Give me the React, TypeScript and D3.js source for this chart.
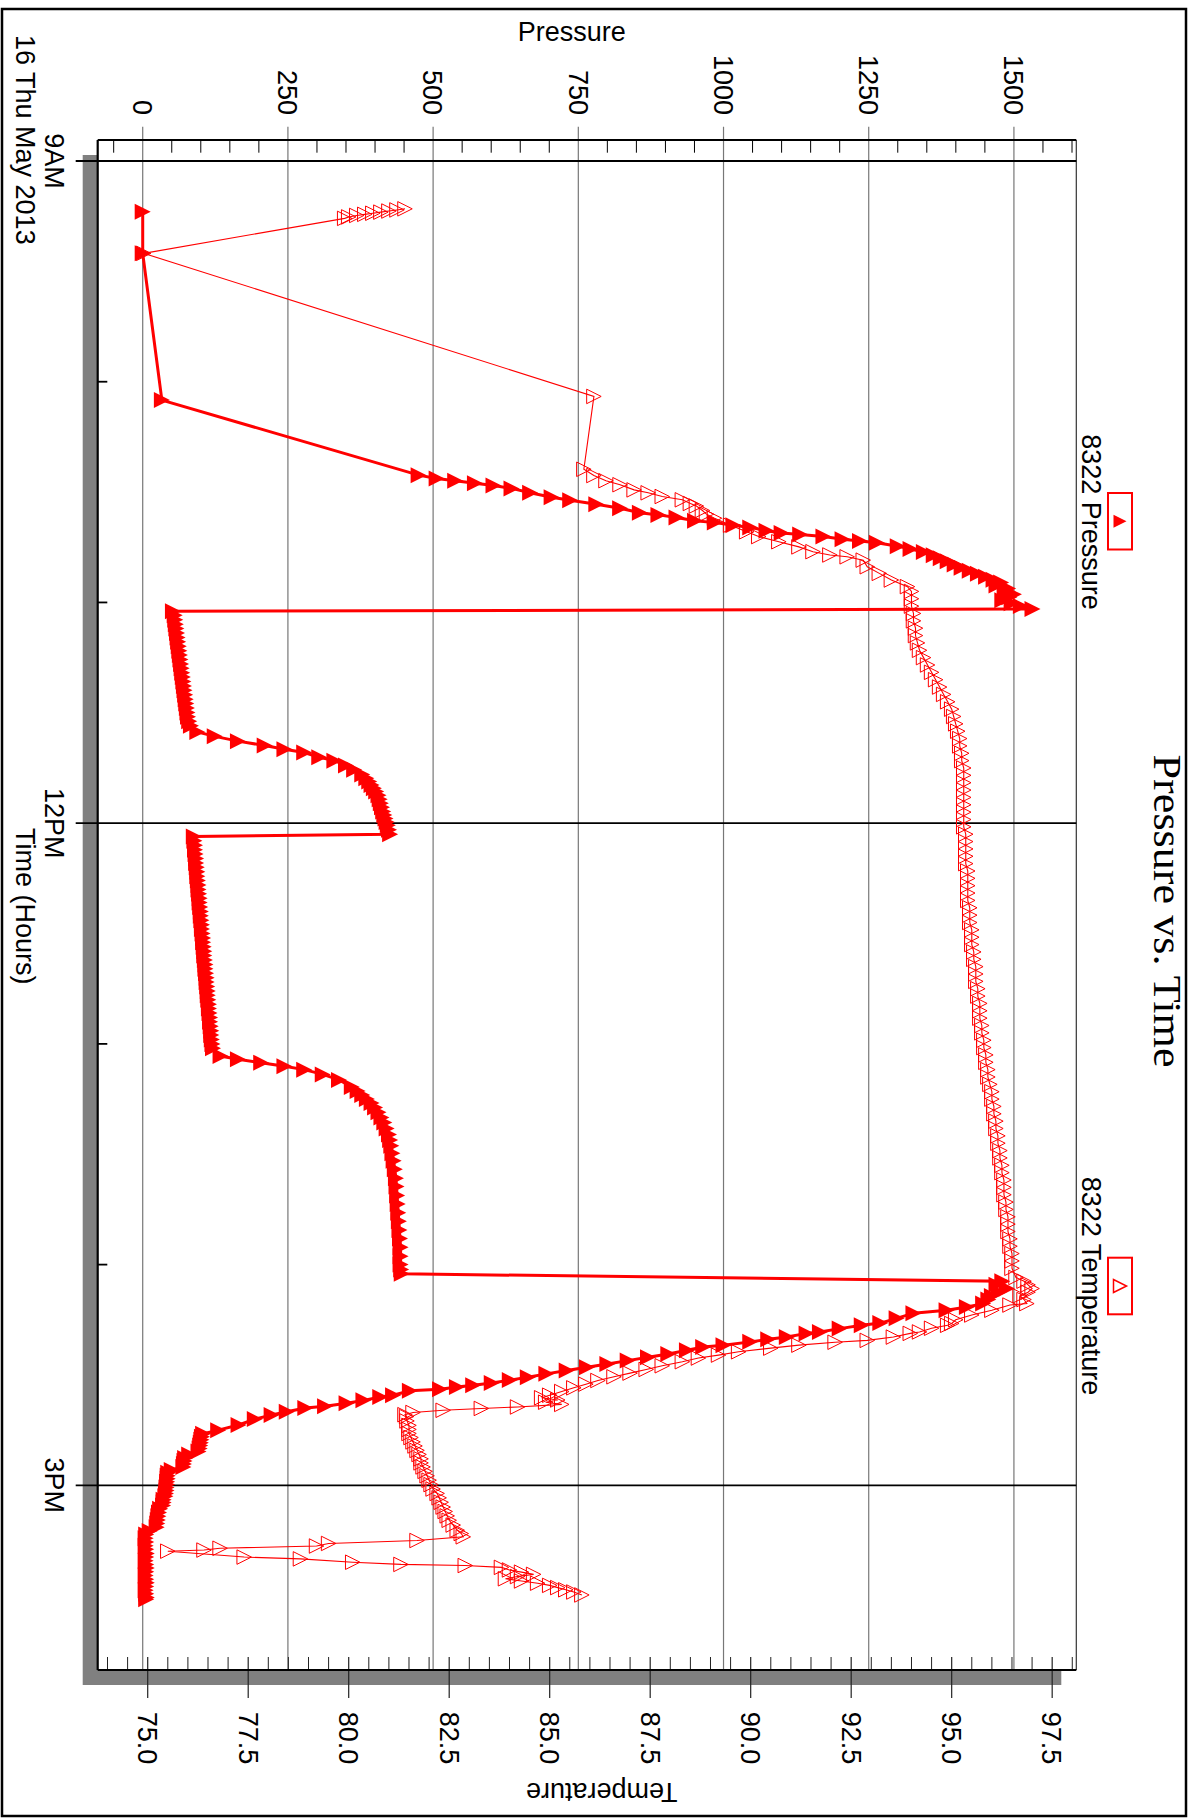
import React from 'react';
import * as d3 from 'd3';

// minutes after 9:00 on 16 May 2013
const pressureMinutes = [
  13.8, 25.1, 65.0, 85.4, 86.3, 86.9, 87.6, 88.2, 89.0, 90.2, 91.4, 92.2, 93.3, 94.4, 95.6, 96.2, 96.9, 97.8, 98.3, 99.0,
  99.6, 100.5, 101.1, 101.5, 102.1, 102.8, 103.3, 103.8, 104.7, 105.5, 106.3, 107.2, 108.0, 108.8, 109.7, 110.6, 111.4,
  112.2, 113.0, 113.8, 114.6, 115.4, 116.2, 117.0, 117.8, 118.6, 119.4, 120.2, 121.0, 121.8,
  122.4, 123.5, 124.7, 125.9, 127.1, 128.3, 129.5, 130.7, 131.9, 133.1, 134.3, 135.5, 136.7, 137.9, 139.1, 140.3, 141.5,
  142.7, 143.9, 145.1, 146.3, 147.5, 148.7, 149.9, 151.1, 152.3, 153.5,
  155.2, 156.4, 157.7, 158.9, 159.9, 160.8, 162.1, 163.0, 164.3, 165.5, 166.8, 167.8, 168.7, 169.6, 170.5, 171.4, 172.4,
  173.5, 174.6, 175.7, 176.8, 177.8, 178.7, 179.7, 180.6, 181.8, 183.0,
  183.6, 184.8, 186.0, 187.2, 188.4, 189.6, 190.8, 192.0, 193.2, 194.4, 195.6, 196.8, 198.0, 199.2, 200.4, 201.6, 202.8,
  204.0, 205.2, 206.4, 207.6, 208.8, 210.0, 211.2, 212.4, 213.6, 214.8, 216.0, 217.2, 218.4, 219.6, 220.8, 222.0, 223.2,
  224.4, 225.6, 226.8, 228.0, 229.2, 230.4, 231.6, 232.8, 234.0, 235.2, 236.4, 237.6, 238.8, 240.0, 241.2,
  243.3, 244.2, 245.1, 246.1, 247.0, 248.3, 249.8, 251.7, 252.8, 253.9, 255.0, 256.1, 257.3, 258.6, 260.0, 261.4, 263.0,
  264.6, 266.1, 267.7, 269.7, 271.8, 274.1, 276.5, 278.8, 281.2, 283.5, 285.9, 288.2, 290.6, 292.9, 295.3, 297.7, 300.0,
  301.3, 302.5,
  304.5, 305.5, 306.5, 307.5, 308.5, 309.5, 310.6, 311.5, 312.4, 313.2, 314.6, 315.9, 316.5, 317.4, 318.3, 318.7, 319.7,
  320.3, 321.0, 321.9, 322.4, 323.3, 324.3, 325.2, 326.1, 327.0, 327.9, 328.8, 329.7, 330.6, 331.4, 332.2, 332.8, 333.3,
  333.9, 334.3, 335.5, 336.0, 336.9, 337.7, 338.5, 339.0, 340.0, 340.9, 342.0, 343.6, 345.0,
  346.0, 346.8, 347.6, 348.4, 349.2, 350.0, 350.8, 351.6, 352.6, 353.4, 354.2, 355.0, 355.8, 356.6, 357.4, 358.2, 359.0,
  359.8, 360.6, 361.4, 362.2, 363.0, 363.9, 364.7, 365.5, 366.4, 367.4, 368.4, 369.4, 370.4, 371.4, 372.4, 373.4, 374.4,
  375.4, 376.4, 377.4, 378.5, 379.5, 380.5, 381.5, 382.5, 383.5, 384.5, 385.5, 386.5, 387.5, 388.5, 389.5, 390.5, 391.0,
];
const pressureValues = [
  0, 0, 33, 475, 506, 538, 572, 604, 635, 667, 704, 736, 781, 822, 856, 888, 919, 951, 985, 1017,
  1046, 1074, 1100, 1132, 1172, 1205, 1235, 1264, 1300, 1322, 1345, 1362, 1374, 1386, 1398, 1410, 1424,
  1438, 1452, 1465, 1478, 1470, 1490, 1484, 1500, 1492, 1480, 1496, 1512, 1532,
  52, 55, 56, 57, 58, 59, 60, 61, 62, 63, 64, 65, 66, 67, 68, 69, 70,
  71, 72, 73, 74, 75, 76, 77, 78, 80, 83,
  94, 124, 164, 210, 244, 278, 304, 330, 350, 364, 378, 385, 390, 394, 398, 402, 406,
  408, 410, 412, 414, 416, 418, 420, 422, 424, 426,
  88, 89, 90, 90, 91, 92, 92, 93, 94, 94, 95, 96, 96, 97, 98, 98, 99,
  100, 100, 101, 102, 102, 103, 104, 104, 105, 106, 106, 107, 108, 108, 109, 110, 110,
  111, 112, 112, 113, 114, 114, 115, 116, 116, 117, 118, 118, 119, 120, 121,
  134, 164, 204, 244, 278, 310, 338, 360, 370, 378, 386, 394, 400, 406, 411, 416, 420,
  424, 426, 428, 430, 432, 434, 436, 437, 438, 439, 440, 441, 442, 443, 444, 444, 444,
  445, 446,
  1480, 1470, 1488, 1474, 1462, 1456, 1447, 1419, 1384, 1327, 1298, 1270, 1238, 1200, 1166, 1143, 1109,
  1077, 1046, 1000, 965, 937, 905, 870, 835, 800, 765, 730, 695, 663, 632, 601, 569, 541,
  512, 460, 431, 409, 380, 351, 314, 280, 248, 222, 193, 165, 130,
  104, 102, 101, 100, 99, 98, 96, 80, 73, 72, 71, 70, 50, 44, 43, 43, 42,
  42, 41, 41, 40, 39, 36, 36, 35, 30, 28, 27, 26, 25, 24, 12, 6, 5,
  6, 5, 6, 7, 6, 5, 6, 7, 6, 5, 6, 7, 6, 5, 6, 7, 6,
];

const temperatureMinutes = [
  13.0, 13.3, 13.6, 13.9, 14.2, 14.5, 14.8, 15.2, 15.6, 25.1, 64.0,
  83.8, 85.5, 86.9, 88.0, 89.4, 90.2, 91.2, 92.1, 93.1, 93.8, 95.0, 96.0, 97.1, 99.0, 100.8, 102.1, 103.5, 104.9,
  106.2, 107.1, 107.6, 108.5, 110.3, 112.1, 113.9, 115.7, 117.0, 119.0, 121.0, 123.0, 125.0, 127.0, 129.0, 131.0,
  133.0, 135.0, 137.0, 139.0, 141.0, 143.0, 145.0, 147.0, 149.0, 151.0, 153.0, 155.0, 157.0, 159.0, 161.0, 163.0,
  165, 167, 169, 171, 173, 175, 177, 179, 181, 183, 185, 187, 189, 191, 193, 195, 197, 199, 201, 203, 205, 207,
  209, 211, 213, 215, 217, 219, 221, 223, 225, 227, 229, 231, 233, 235, 237, 239, 241, 243, 245, 247, 249, 251,
  253, 255, 257, 259, 261, 263, 265, 267, 269, 271, 273, 275, 277, 279, 281, 283, 285, 287, 289, 291, 293, 295,
  297, 299, 301,
  303.5, 304.5, 305.5, 306.5, 307.5, 308.5, 309.5, 310.6, 311.0, 312.4, 313.7, 315.0, 316.0, 316.5, 317.3, 318.3,
  318.7, 319.7, 320.6, 321.1, 321.9, 322.7, 323.7, 324.6, 325.4, 326.4, 327.5, 328.5, 329.5, 330.5, 331.5, 332.5,
  333.5, 334.5, 335.5, 336.2, 336.8, 337.4, 338.0, 338.7, 339.1, 339.6, 340.2, 340.8, 341.3, 342.5, 343.7, 344.8,
  345.9, 347.0, 348.2, 349.3, 350.5, 351.6, 352.8, 353.9, 355.0, 356.2, 357.4, 358.6, 359.8, 361.0, 362.2, 363.4,
  364.6, 365.9, 367.1, 368.3, 369.5, 370.8, 372.2, 373.1, 374.0,
  375.0, 375.8, 376.5, 377.1, 377.6, 377.9, 379.5, 380.0, 380.9, 381.5, 381.8, 382.3, 383.0, 383.6, 384.2, 384.8,
  385.4, 386.0, 386.6, 387.2, 387.8, 388.4, 389.0, 389.8,
];
const temperatureValues = [
  81.4, 81.2, 81.0, 80.8, 80.6, 80.4, 80.2, 80.0, 79.9, 74.9, 86.1,
  85.85, 86.1, 86.4, 86.75, 87.1, 87.45, 87.8, 88.3, 88.5, 88.65, 88.8, 88.9, 89.1, 89.5, 89.9, 90.2, 90.7, 91.2,
  91.55, 91.97, 92.4, 92.8, 92.9, 93.2, 93.5, 93.9, 94.0, 94.0, 94.0, 94.05, 94.05, 94.1, 94.1, 94.15,
  94.2, 94.3, 94.4, 94.5, 94.6, 94.7, 94.8, 94.9, 95.0, 95.05, 95.1, 95.15, 95.2, 95.2, 95.25, 95.25,
  95.3, 95.3, 95.3, 95.3, 95.3, 95.3, 95.3, 95.3, 95.3, 95.35, 95.35, 95.35, 95.35, 95.35, 95.4, 95.4, 95.4, 95.4, 95.4, 95.45, 95.45, 95.45,
  95.5, 95.5, 95.5, 95.55, 95.55, 95.6, 95.6, 95.6, 95.65, 95.65, 95.7, 95.7, 95.7, 95.75, 95.75, 95.8, 95.8, 95.85, 95.85, 95.9, 95.9, 95.95,
  96.0, 96.0, 96.05, 96.05, 96.1, 96.1, 96.15, 96.15, 96.2, 96.2, 96.25, 96.25, 96.3, 96.3, 96.3, 96.35, 96.35, 96.4, 96.4, 96.4, 96.45, 96.45,
  96.5, 96.5, 96.5,
  96.6, 96.8, 96.9, 97.0, 96.9, 96.7, 96.8, 96.87, 96.45, 96.0, 95.5, 95.1, 95.0, 94.9, 94.5, 94.2,
  93.97, 93.55, 92.9, 92.1, 91.2, 90.5, 89.7, 89.2, 88.7, 88.3, 87.8, 87.4, 87.0, 86.6, 86.2, 85.9,
  85.6, 85.3, 85.0, 84.8, 85.2, 84.9, 85.3, 84.2, 83.3, 82.35, 81.6, 81.4, 81.44, 81.45, 81.5, 81.5,
  81.5, 81.55, 81.6, 81.65, 81.7, 81.75, 81.8, 81.8, 81.85, 81.9, 81.95, 82.0, 82.05, 82.1, 82.2, 82.25,
  82.3, 82.35, 82.4, 82.45, 82.5, 82.6, 82.7, 82.8, 82.85,
  81.7, 79.5, 79.2, 76.8, 76.4, 75.5, 77.4, 78.8, 80.1, 81.3, 82.9, 83.8, 84.0, 84.3, 84.6, 84.2,
  83.9, 84.3, 84.7, 85.0, 85.2, 85.4, 85.6, 85.8,
];

const pressureTicks = [0, 250, 500, 750, 1000, 1250, 1500];
const temperatureTicks = [75, 77.5, 80, 82.5, 85, 87.5, 90, 92.5, 95, 97.5];
const seriesNames = ['8322 Pressure', '8322 Temperature'];
const dateLabel = '16 Thu May 2013';

const RED = '#ff0000';
const SANS = '"Liberation Sans", Arial, sans-serif';
const SERIF = '"Liberation Serif", "Times New Roman", serif';

const start = new Date(2013, 4, 16, 9, 0);
const atMinute = (m: number) => new Date(start.getTime() + m * 60000);

// the chart is laid out unrotated (time along x) and then turned 90deg clockwise
const x = d3.scaleTime().domain([start, atMinute(410.2)]).range([161, 1670]);
const yP = d3.scaleLinear().domain([-77.5, 1607.4]).range([1102.3, 123.7]);
const yT = d3.scaleLinear().domain([73.756, 98.1]).range([1102.3, 123.7]);

const upTriangle = {
  draw(ctx: any, size: number) {
    const s = Math.sqrt(size);
    ctx.moveTo(0, -s / 2);
    ctx.lineTo(s / 2, s / 2);
    ctx.lineTo(-s / 2, s / 2);
    ctx.closePath();
  },
};
const filledMark = d3.symbol(upTriangle as any, 16 * 16)() as string;
const openMark = d3.symbol(upTriangle as any, 14.5 * 14.5)() as string;
const legendMark = d3.symbol(upTriangle as any, 13 * 13)() as string;

const pressurePts: [number, number][] = pressureMinutes.map((m, i) => [x(atMinute(m)), yP(pressureValues[i])]);
const tempPts: [number, number][] = temperatureMinutes.map((m, i) => [x(atMinute(m)), yT(temperatureValues[i])]);
const line = d3.line();

const App: React.FC = () => {
  const hours = x.ticks(d3.timeHour.every(1) as any);
  const fmt = d3.timeFormat('%-I%p');
  const pMinor = d3.range(-50, 1601, 50).filter((v) => v % 250 !== 0);
  const tMinor = d3.range(74, 98.01, 0.5).filter((v) => Math.abs(v / 2.5 - Math.round(v / 2.5)) > 1e-6);

  return (
    <>
      <style>{'body{margin:0;background:#fff}'}</style>
      <svg width={1200} height={1818} style={{ display: 'block' }} fontFamily={SANS}>
        <rect width={1200} height={1818} fill="#fff" />
        <g transform="translate(1200,0) rotate(90)">
          <rect x={9} y={14} width={1807} height={1184} fill="#fff" stroke="#000" strokeWidth={2.5} />

          {/* frame with drop shadow */}
          <rect x={155} y={138.7} width={1530} height={978.6} fill="#808080" />
          <rect x={140} y={123.7} width={1530} height={978.6} fill="#fff" />

          {/* pressure grid */}
          {pressureTicks.map((p) => (
            <line key={'pg' + p} x1={126.7} x2={1670} y1={yP(p)} y2={yP(p)} stroke="#777" strokeWidth={1.2} />
          ))}
          {pMinor.map((p) => (
            <line key={'pm' + p} x1={140} x2={152.7} y1={yP(p)} y2={yP(p)} stroke="#000" strokeWidth={1} />
          ))}
          {pressureTicks.map((p) => (
            <text key={'pl' + p} x={115} y={yP(p) + 9.7} textAnchor="end" fontSize={27}>
              {p}
            </text>
          ))}

          {/* temperature axis */}
          {tMinor.map((t) => (
            <line key={'tm' + t} x1={1657} x2={1670} y1={yT(t)} y2={yT(t)} stroke="#222" strokeWidth={1} />
          ))}
          {temperatureTicks.map((t) => (
            <line key={'tt' + t} x1={1657} x2={1698} y1={yT(t)} y2={yT(t)} stroke="#222" strokeWidth={1.2} />
          ))}
          {temperatureTicks.map((t) => (
            <text key={'tl' + t} x={1711.7} y={yT(t) + 9.7} fontSize={27}>
              {t.toFixed(1)}
            </text>
          ))}

          {/* frame lines */}
          <line x1={140} x2={1670} y1={123.7} y2={123.7} stroke="#333" strokeWidth={1.2} />
          <line x1={140} x2={140} y1={123.7} y2={1102.3} stroke="#000" strokeWidth={2.2} />
          <line x1={140} x2={1670} y1={1102.3} y2={1102.3} stroke="#000" strokeWidth={2.2} />
          <line x1={1670} x2={1670} y1={123.7} y2={1102.3} stroke="#000" strokeWidth={2.2} />

          {/* time axis */}
          {hours.map((h) =>
            h.getHours() % 3 === 0 ? (
              <line key={'hg' + h.getHours()} x1={x(h)} x2={x(h)} y1={123.7} y2={1124.3} stroke="#000" strokeWidth={1.8} />
            ) : (
              <line key={'hm' + h.getHours()} x1={x(h)} x2={x(h)} y1={1092.7} y2={1102.3} stroke="#000" strokeWidth={1.8} />
            )
          )}
          {hours
            .filter((h) => h.getHours() % 3 === 0)
            .map((h) => (
              <text key={'hl' + h.getHours()} x={x(h)} y={1155} textAnchor="middle" fontSize={27}>
                {fmt(h)}
              </text>
            ))}
          <text x={35} y={1184} fontSize={27}>
            {dateLabel}
          </text>
          <text x={828} y={1184} fontSize={27}>
            Time (Hours)
          </text>

          {/* axis titles */}
          <text transform="translate(40.7,628.3) rotate(-90)" textAnchor="middle" fontSize={27}>
            Pressure
          </text>
          <text transform="translate(1783,598.2) rotate(90)" textAnchor="middle" fontSize={27}>
            Temperature
          </text>
          <text
            x={911}
            y={46}
            textAnchor="middle"
            fontFamily={SERIF}
            fontSize={40}
            textLength={313}
            lengthAdjust="spacingAndGlyphs"
          >
            Pressure vs. Time
          </text>

          {/* legend */}
          <rect x={493} y={68} width={56.5} height={24} fill="none" stroke={RED} strokeWidth={2} />
          <path d={legendMark} transform="translate(521.3,80)" fill={RED} />
          <text x={522} y={118.3} textAnchor="middle" fontSize={27}>
            {seriesNames[0]}
          </text>
          <rect x={1257.7} y={68} width={56.6} height={24} fill="none" stroke={RED} strokeWidth={2} />
          <path d={legendMark} transform="translate(1286,80)" fill="none" stroke={RED} strokeWidth={1.5} />
          <text x={1286} y={118.3} textAnchor="middle" fontSize={27}>
            {seriesNames[1]}
          </text>

          {/* pressure series */}
          <path d={line(pressurePts) as string} fill="none" stroke={RED} strokeWidth={3} />
          {pressurePts.map((p, i) => (
            <path key={'pp' + i} d={filledMark} transform={`translate(${p[0]},${p[1]})`} fill={RED} />
          ))}

          {/* temperature series */}
          <path d={line(tempPts) as string} fill="none" stroke={RED} strokeWidth={1.1} />
          {tempPts.map((p, i) => (
            <path key={'tp' + i} d={openMark} transform={`translate(${p[0]},${p[1]})`} fill="none" stroke={RED} strokeWidth={1} />
          ))}
        </g>
      </svg>
    </>
  );
};

export default App;
